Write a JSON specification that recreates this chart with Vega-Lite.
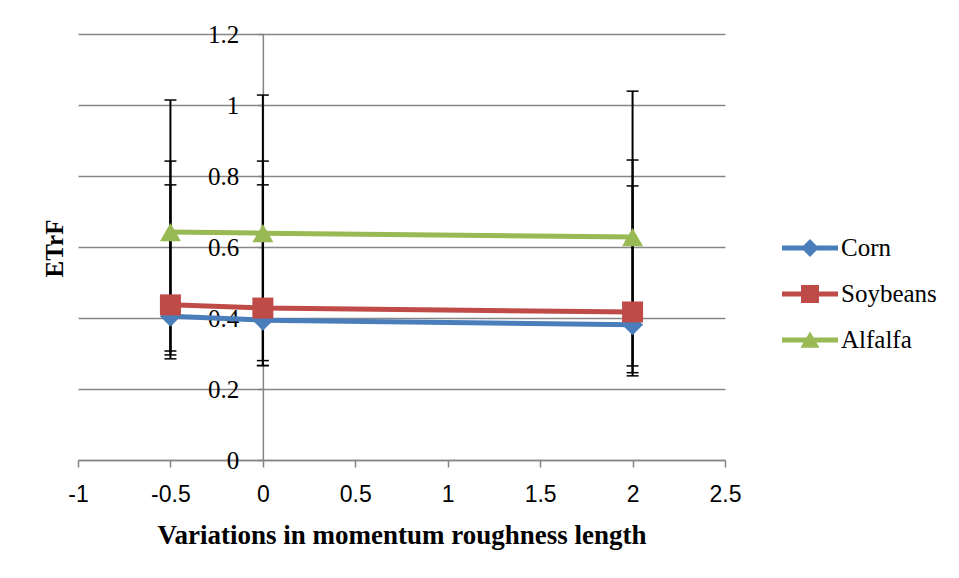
{
  "$schema": "https://vega.github.io/schema/vega-lite/v6.json",
  "width": 647,
  "height": 426,
  "autosize": "none",
  "padding": {"left": 78, "top": 34, "right": 234, "bottom": 118},
  "background": "white",
  "config": {
    "view": {"stroke": null},
    "axis": {"labelColor": "black", "titleColor": "black"}
  },
  "data": {
    "values": [
      {"series": "Corn", "variation": -0.5, "etrf": 0.405, "lo": 0.285, "hi": 0.775},
      {"series": "Corn", "variation": 0, "etrf": 0.394, "lo": 0.266, "hi": 0.775},
      {"series": "Corn", "variation": 2, "etrf": 0.381, "lo": 0.237, "hi": 0.772},
      {"series": "Soybeans", "variation": -0.5, "etrf": 0.437, "lo": 0.296, "hi": 0.842},
      {"series": "Soybeans", "variation": 0, "etrf": 0.428, "lo": 0.266, "hi": 0.842},
      {"series": "Soybeans", "variation": 2, "etrf": 0.417, "lo": 0.246, "hi": 0.845},
      {"series": "Alfalfa", "variation": -0.5, "etrf": 0.642, "lo": 0.307, "hi": 1.014},
      {"series": "Alfalfa", "variation": 0, "etrf": 0.639, "lo": 0.28, "hi": 1.028},
      {"series": "Alfalfa", "variation": 2, "etrf": 0.628, "lo": 0.265, "hi": 1.039}
    ]
  },
  "encoding": {
    "x": {
      "field": "variation",
      "type": "quantitative",
      "scale": {"domain": [-1, 2.5], "nice": false, "zero": false},
      "axis": {
        "title": "Variations in momentum roughness length",
        "values": [-1, -0.5, 0, 0.5, 1, 1.5, 2, 2.5],
        "labelExpr": "'' + datum.value",
        "grid": false,
        "domainColor": "#868686",
        "domainWidth": 1.5,
        "tickColor": "#868686",
        "tickWidth": 1.5,
        "tickSize": 7,
        "labelFont": "Liberation Sans",
        "labelFontSize": 23,
        "labelPadding": 16,
        "labelFlush": false,
        "titleFont": "Liberation Serif",
        "titleFontSize": 27,
        "titleFontWeight": "bold",
        "titlePadding": 16
      }
    }
  },
  "layer": [
    {
      "mark": {"type": "line", "strokeWidth": 5, "strokeCap": "round", "strokeJoin": "round"},
      "encoding": {
        "y": {
          "field": "etrf",
          "type": "quantitative",
          "scale": {"domain": [0, 1.2], "nice": false},
          "axis": {
            "title": "ETrF",
            "values": [0, 0.2, 0.4, 0.6, 0.8, 1, 1.2],
            "labelExpr": "'' + datum.value",
            "offset": -184.857,
            "grid": true,
            "gridColor": "#868686",
            "gridWidth": 1.5,
            "domainColor": "#868686",
            "domainWidth": 1.5,
            "tickColor": "#868686",
            "tickWidth": 1.5,
            "tickSize": 5,
            "labelFont": "Liberation Serif",
            "labelFontSize": 25,
            "labelPadding": 19,
            "titleFont": "Liberation Serif",
            "titleFontSize": 25,
            "titleFontWeight": "bold",
            "titleX": -208,
            "titleY": 214,
            "titleBaseline": "middle"
          }
        },
        "stroke": {
          "field": "series",
          "type": "nominal",
          "scale": {"domain": ["Alfalfa", "Soybeans", "Corn"], "range": ["#98B954", "#BE4B48", "#4A7EBB"]},
          "legend": null
        }
      }
    },
    {
      "mark": {"type": "rule", "color": "black", "strokeWidth": 2},
      "encoding": {
        "y": {"field": "lo", "type": "quantitative"},
        "y2": {"field": "hi"}
      }
    },
    {
      "mark": {"type": "tick", "orient": "horizontal", "color": "black", "size": 12, "thickness": 1.5, "opacity": 1},
      "encoding": {"y": {"field": "lo", "type": "quantitative"}}
    },
    {
      "mark": {"type": "tick", "orient": "horizontal", "color": "black", "size": 12, "thickness": 1.5, "opacity": 1},
      "encoding": {"y": {"field": "hi", "type": "quantitative"}}
    },
    {
      "transform": [{"filter": "datum.series === 'Corn'"}],
      "mark": {"type": "point", "shape": "diamond", "filled": true, "opacity": 1, "size": 441, "strokeWidth": 0, "color": "#4A7EBB"},
      "encoding": {"y": {"field": "etrf", "type": "quantitative"}}
    },
    {
      "transform": [{"filter": "datum.series === 'Soybeans'"}],
      "mark": {"type": "point", "shape": "square", "filled": true, "opacity": 1, "size": 441, "strokeWidth": 0, "color": "#BE4B48"},
      "encoding": {"y": {"field": "etrf", "type": "quantitative"}}
    },
    {
      "transform": [{"filter": "datum.series === 'Alfalfa'"}],
      "mark": {"type": "point", "shape": "triangle-up", "filled": true, "opacity": 1, "size": 441, "strokeWidth": 0, "color": "#98B954"},
      "encoding": {"y": {"field": "etrf", "type": "quantitative"}}
    },
    {
      "transform": [{"filter": "false"}],
      "mark": {"type": "point", "filled": true, "opacity": 1, "strokeWidth": 0},
      "encoding": {
        "y": {"field": "etrf", "type": "quantitative"},
        "color": {
          "field": "series",
          "type": "nominal",
          "scale": {"domain": ["Corn", "Soybeans", "Alfalfa"], "range": ["#4A7EBB", "#BE4B48", "#98B954"]},
          "legend": {
            "orient": "none",
            "legendX": 704,
            "legendY": 191,
            "title": null,
            "padding": 0,
            "symbolSize": 3136,
            "symbolStrokeWidth": 0,
            "symbolOpacity": 1,
            "clipHeight": 46,
            "rowPadding": 0,
            "labelFont": "Liberation Serif",
            "labelFontSize": 25,
            "labelColor": "black",
            "labelOffset": 3
          }
        },
        "shape": {
          "field": "series",
          "type": "nominal",
          "scale": {
            "domain": ["Corn", "Soybeans", "Alfalfa"],
            "range": [
              "M-1,-0.09H1V0.09H-1Z M0,-0.32L0.32,0L0,0.32L-0.32,0Z",
              "M-1,-0.09H1V0.09H-1Z M-0.32,-0.32H0.32V0.32H-0.32Z",
              "M-1,-0.09H1V0.09H-1Z M0,-0.3L0.34,0.28L-0.34,0.28Z"
            ]
          },
          "legend": {
            "orient": "none",
            "legendX": 704,
            "legendY": 191,
            "title": null,
            "padding": 0,
            "symbolSize": 3136,
            "symbolStrokeWidth": 0,
            "symbolOpacity": 1,
            "clipHeight": 46,
            "rowPadding": 0,
            "labelFont": "Liberation Serif",
            "labelFontSize": 25,
            "labelColor": "black",
            "labelOffset": 3
          }
        }
      }
    }
  ]
}
